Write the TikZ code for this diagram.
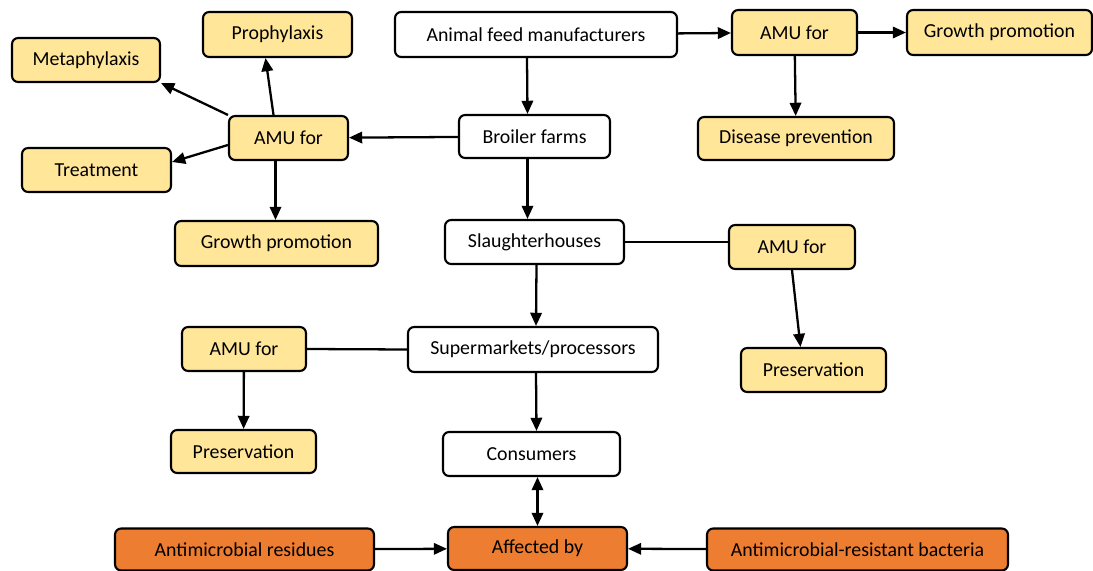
\documentclass[tikz,border=0pt]{standalone}
\usepackage{fontspec}
\setmainfont{Carlito}
\usepackage{tikz}
\usepackage{xcolor}
\usetikzlibrary{arrows.meta,calc}
\definecolor{amuyellow}{HTML}{FFE699}
\definecolor{riskorange}{HTML}{ED7D31}
\tikzstyle{chainbox} = [fill=white]
\tikzstyle{amubox} = [fill=amuyellow]
\tikzstyle{riskbox} = [fill=riskorange]

\begin{document}
\begin{tikzpicture}[x=0.02cm,y=-0.02cm]
			\tikzset{every node/.style={draw, rounded corners=3.5pt, line width=1.2pt, inner sep=0pt, font=\fontsize{11.3}{13}\selectfont}}
			\tikzset{arr/.style={line width=1.3pt, -{Triangle[length=7.5pt,width=6.5pt]}}}
\useasboundingbox (0,0) rectangle (1093,571);

% supply chain
\node[chainbox, minimum width=5.64cm, minimum height=0.9cm] (feed) at (536,34.5) {Animal feed manufacturers};
\node[chainbox, minimum width=3.02cm, minimum height=0.86cm] (farms) at (534.5,136.5) {Broiler farms};
\node[chainbox, minimum width=3.58cm, minimum height=0.88cm] (slaught) at (534.5,242) {Slaughterhouses};
\node[chainbox, minimum width=5.0cm, minimum height=0.9cm] (super) at (533,349.5) {Supermarkets/processors};
\node[chainbox, minimum width=3.54cm, minimum height=0.88cm] (cons) at (531.5,454) {Consumers};

% uses on farms
\node[amubox, minimum width=2.38cm, minimum height=0.88cm] (amuL) at (288.5,138) {AMU for};
\node[amubox, minimum width=2.98cm, minimum height=0.9cm] (proph) at (277.5,34.5) {Prophylaxis};
\node[amubox, minimum width=2.96cm, minimum height=0.88cm] (meta) at (86,60) {Metaphylaxis};
\node[amubox, minimum width=2.98cm, minimum height=0.88cm] (treat) at (96.5,170) {Treatment};
\node[amubox, minimum width=4.06cm, minimum height=0.9cm] (gpL) at (276.5,243.5) {Growth promotion};

% uses in feed
\node[amubox, minimum width=2.5cm, minimum height=0.9cm] (amuT) at (794.5,32.5) {AMU for};
\node[amubox, minimum width=3.7cm, minimum height=0.9cm] (gpT) at (999.5,32.5) {Growth promotion};
\node[amubox, minimum width=3.92cm, minimum height=0.86cm] (disease) at (796,138.5) {Disease prevention};

% uses after slaughter
\node[amubox, minimum width=2.52cm, minimum height=0.88cm] (amuR) at (792,247) {AMU for};
\node[amubox, minimum width=2.9cm, minimum height=0.88cm] (presR) at (813.5,370) {Preservation};
\node[amubox, minimum width=2.48cm, minimum height=0.88cm] (amuLow) at (244,349) {AMU for};
\node[amubox, minimum width=2.9cm, minimum height=0.86cm] (presL) at (243.5,451.5) {Preservation};

% risks
\node[riskbox, minimum width=3.58cm, minimum height=0.86cm] (affect) at (537.5,548.5) {Affected by};
\node[riskbox, minimum width=5.18cm, minimum height=0.84cm] (resid) at (244.5,549.5) {Antimicrobial residues};
\node[riskbox, minimum width=6.02cm, minimum height=0.84cm] (bact) at (857.5,549.5) {Antimicrobial-resistant bacteria};

\foreach \from/\to in {feed/amuT,amuT/gpT,amuT/disease,farms/amuL,amuLow/presL,resid/affect,bact/affect}
{
	\draw[arr] (\from) -- (\to);
}

\draw[arr] ($(feed.south)+(-9,0)$) -- ($(farms.north)+(-7,0)$);
\draw[arr] (amuL.north west) -- (meta.south east);
\draw[arr] ($(amuL.north)+(-15,0)$) -- ($(proph.south)+(-12,0)$);
\draw[arr] ($(amuL.west)+(0,7)$) -- ($(treat.east)+(0,-8)$);
\draw[arr] ($(amuL.south)+(-13,0)$) -- ($(gpL.north)+(-1,0)$);
\draw[arr] ($(farms.south)+(-7,0)$) -- ($(slaught.north)+(-7,0)$);
\draw[line width=1.3pt] (slaught.east) -- (slaught.east -| amuR.west);
\draw[arr] (amuR.south) -- ($(presR.north)+(-13,0)$);
\draw[arr] ($(slaught.south)+(2,0)$) -- ($(super.north)+(3,0)$);
\draw[line width=1.3pt] (super.west) -- (amuLow.east);
\draw[arr] ($(super.south)+(3,0)$) -- ($(cons.north)+(5,0)$);
\draw[arr, {Triangle[length=7.5pt,width=6.5pt]}-{Triangle[length=7.5pt,width=6.5pt]}] ($(cons.south)+(6,0)$) -- (affect.north);

		\end{tikzpicture}
\end{document}
